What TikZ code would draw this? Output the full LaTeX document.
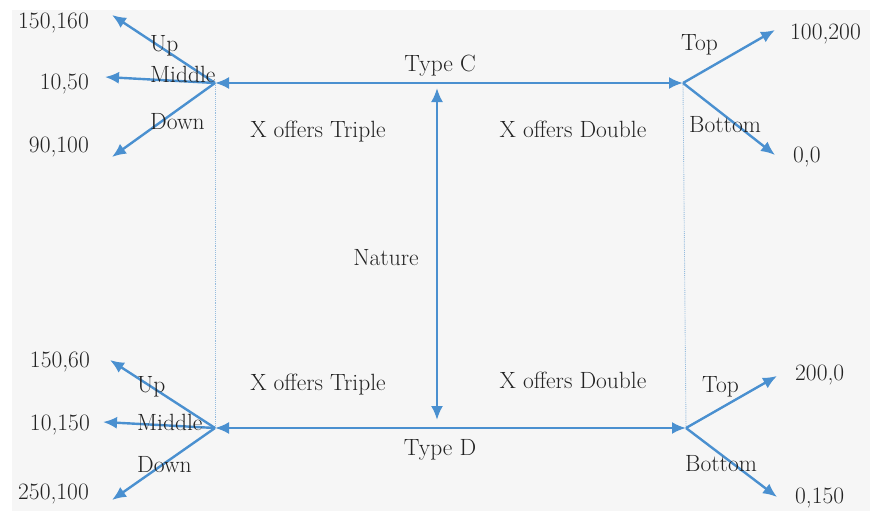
\documentclass[tikz,border=0pt]{standalone}
\usetikzlibrary{arrows.meta}
\definecolor{branch}{RGB}{74,144,208}
\definecolor{infoset}{RGB}{150,188,222}
\definecolor{paper}{RGB}{246,246,246}
\definecolor{ink}{RGB}{35,35,35}
\begin{document}
\begin{tikzpicture}[x=1pt,y=-1pt,
  lbl/.style={font=\fontsize{23.5}{27}\selectfont, text=ink, inner sep=0pt,
              text height=15pt, text depth=5pt},
  move/.style={draw=branch, line width=2.4pt, -{Latex[length=14pt,width=12pt]}},
  twoway/.style={draw=branch, line width=2.4pt,
                 {Latex[length=14pt,width=12pt]}-{Latex[length=14pt,width=12pt]}},
  infoline/.style={draw=infoset, line width=0.9pt, densely dotted}]
  % canvas
  \useasboundingbox (0,0) rectangle (870,511);
  \fill[white] (0,0) rectangle (870,511);
  \fill[paper] (12,10) rectangle (870,511);

  % decision points
  \coordinate (L1) at (215,83);
  \coordinate (R1) at (683,83);
  \coordinate (L2) at (215,428);
  \coordinate (R2) at (686,428);
  \coordinate (NatTop) at (437,88);
  \coordinate (NatBot) at (437,420);

  % branch ends
  \coordinate (LUp1) at (112,15);
  \coordinate (LMid1) at (105,77);
  \coordinate (LDown1) at (112,157);
  \coordinate (RTop1) at (775,30);
  \coordinate (RBot1) at (775,155);
  \coordinate (LUp2) at (110,360);
  \coordinate (LMid2) at (103,422);
  \coordinate (LDown2) at (112,500);
  \coordinate (RTop2) at (777,376);
  \coordinate (RBot2) at (777,497);

  % information sets
  \draw[infoline] (L1) -- (L2);
  \draw[infoline] (R1) -- (R2);

  % nature's moves and types
  \draw[twoway] (L1) -- (R1);
  \draw[twoway] (L2) -- (R2);
  \draw[twoway] (NatTop) -- (NatBot);

  % player moves
  \draw[move] (L1) -- (LUp1);
  \draw[move] (L1) -- (LMid1);
  \draw[move] (L1) -- (LDown1);
  \draw[move] (R1) -- (RTop1);
  \draw[move] (R1) -- (RBot1);
  \draw[move] (L2) -- (LUp2);
  \draw[move] (L2) -- (LMid2);
  \draw[move] (L2) -- (LDown2);
  \draw[move] (R2) -- (RTop2);
  \draw[move] (R2) -- (RBot2);

  % central labels
  \node[lbl] (typeC) at (440,66) {Type C};
  \node[lbl] (typeD) at (440,450) {Type D};
  \node[lbl] (nature) at (386,260) {Nature};
  \node[lbl] (tripleC) at (318,132) {X offers Triple};
  \node[lbl] (doubleC) at (573,132) {X offers Double};
  \node[lbl] (tripleD) at (318,385) {X offers Triple};
  \node[lbl] (doubleD) at (573,383) {X offers Double};

  % move labels
  \node[lbl, anchor=west] (up1) at (150,47) {Up};
  \node[lbl, anchor=west] (mid1) at (150,77) {Middle};
  \node[lbl, anchor=west] (down1) at (150,124) {Down};
  \node[lbl, anchor=west] (top1) at (681,46) {Top};
  \node[lbl, anchor=west] (bot1) at (689,127) {Bottom};
  \node[lbl, anchor=west] (up2) at (137,387) {Up};
  \node[lbl, anchor=west] (mid2) at (137,425) {Middle};
  \node[lbl, anchor=west] (down2) at (137,467) {Down};
  \node[lbl, anchor=west] (top2) at (702,387) {Top};
  \node[lbl, anchor=west] (bot2) at (685,466) {Bottom};

  % payoffs
  \node[lbl, anchor=east] (pay1) at (89,24) {150,160};
  \node[lbl, anchor=east] (pay2) at (89,84) {10,50};
  \node[lbl, anchor=east] (pay3) at (89,147) {90,100};
  \node[lbl, anchor=west] (pay4) at (790,35) {100,200};
  \node[lbl, anchor=west] (pay5) at (793,157) {0,0};
  \node[lbl, anchor=east] (pay6) at (90,362) {150,60};
  \node[lbl, anchor=east] (pay7) at (90,425) {10,150};
  \node[lbl, anchor=east] (pay8) at (89,494) {250,100};
  \node[lbl, anchor=west] (pay9) at (795,375) {200,0};
  \node[lbl, anchor=west] (pay10) at (795,498) {0,150};
\end{tikzpicture}
\end{document}
